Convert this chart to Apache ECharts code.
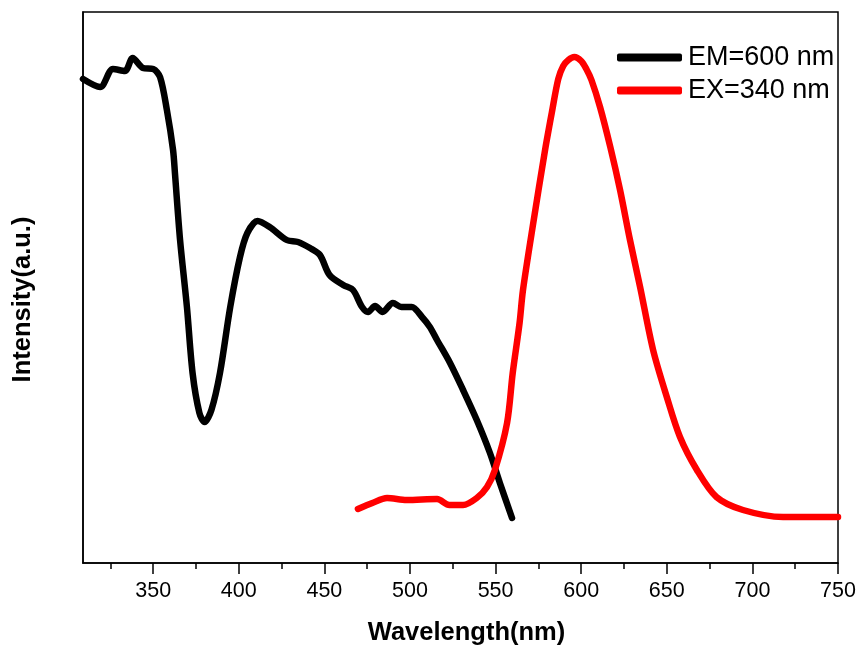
<!DOCTYPE html>
<html>
<head>
<meta charset="utf-8">
<script src="https://cdn.jsdelivr.net/npm/echarts@6/dist/echarts.min.js"></script>
<style>html,body{margin:0;padding:0;background:#fff;}#c{width:861px;height:652px;}</style>
</head>
<body>
<div id="c"></div>
<script>
// Excitation spectrum (EM=600 nm): wavelength, intensity (a.u.)
const emWavelength = [309,319,326.5,333.5,338,344,350,354,358,361.6,362.7,365.7,369.7,373,377,380,384,389,395,400.7,405,411,418,428,434.6,441.6,447.4,453,461,466.7,472,475.5,479.6,484,490,495,501,507,511.6,515.8,523.4,531,539,546.7,552.5,559.6];
const emIntensity  = [484,476,494,492,505,495,494,486,453,413,390,323,256,190,150,141,153,190,256,306,330,342,336,323,321,315,308,288,278,273,256,251,257,251,260,256,256,246,236,223,200,173,143,110,80,45];
// Emission spectrum (EX=340 nm)
const exWavelength = [469.6,478,486.6,498,515.8,523,531,539,545,549.6,556.7,560,564,566,572,578.9,582.8,586.6,589.5,592.5,596,600,603,606,611,617,622.7,628.5,634.4,642,650,657.7,667.6,679,694.5,717.9,750];
const exIntensity  = [54,60,65,63,64,58,58,65,76,93,140,190,240,273,340,413,450,484,497,503,506,502,494,483,456,416,373,323,276,213,166,126,93,66,53,46,46];
const xMin = 309, xMax = 750;
const majorTicks = [350,400,450,500,550,600,650,700,750];
const minorTicks = [325,375,425,475,525,575,625,675,725];
const seriesNames = ['EM=600 nm','EX=340 nm'];

const chart = echarts.init(document.getElementById('c'));
const pair = (xs, ys) => xs.map((x, i) => [x, ys[i]]);
const FONT = '"Liberation Sans", Arial, sans-serif';
// plot box
const L = 83, R = 23, T = 12, B = 89, W = 861 - L - R;
const pxPerUnit = W / (xMax - xMin);
// tick/label grids aligned to the same pixel scale as the data axis
const gMajor = { left: L + (majorTicks[0] - xMin) * pxPerUnit, right: R + (xMax - majorTicks[majorTicks.length-1]) * pxPerUnit, top: T, bottom: B };
const gMinor = { left: L + (minorTicks[0] - xMin) * pxPerUnit, right: R + (xMax - minorTicks[minorTicks.length-1]) * pxPerUnit, top: T, bottom: B };
const hiddenY = (gi) => ({ gridIndex: gi, type: 'value', show: false, min: 0, max: 1 });
chart.setOption({
  animation: false,
  backgroundColor: '#fff',
  grid: [
    { left: L, right: R, top: T, bottom: B, show: true, borderColor: '#000', borderWidth: 1.5, containLabel: false },
    gMajor, gMinor
  ],
  legend: {
    data: seriesNames, left: 617, top: 44, padding: 0, orient: 'vertical',
    itemWidth: 65, itemHeight: 8, itemGap: 6, icon: 'roundRect',
    textStyle: { fontFamily: FONT, fontSize: 27, color: '#000', padding: [0,0,0,1] }
  },
  xAxis: [{
    gridIndex: 0, type: 'value', min: xMin, max: xMax, position: 'bottom',
    name: 'Wavelength(nm)', nameLocation: 'middle', nameGap: 57,
    nameTextStyle: { fontFamily: FONT, fontSize: 25.5, fontWeight: 'bold', color: '#000', padding: [0,0,0,12] },
    axisLine: { show: true, lineStyle: { color: '#000', width: 1.5 } },
    axisTick: { show: false },
    axisLabel: { show: false },
    splitLine: { show: false }
  }, {
    gridIndex: 1, type: 'value', min: majorTicks[0], max: majorTicks[majorTicks.length-1], interval: 50, position: 'bottom',
    axisLine: { show: false },
    axisTick: { show: true, inside: false, length: 11, lineStyle: { color: '#000', width: 1.5 } },
    axisLabel: { show: true, margin: 17, fontFamily: FONT, fontSize: 21.5, color: '#000', showMinLabel: true, showMaxLabel: true },
    splitLine: { show: false }
  }, {
    gridIndex: 2, type: 'value', min: minorTicks[0], max: minorTicks[minorTicks.length-1], interval: 50, position: 'bottom',
    axisLine: { show: false },
    axisTick: { show: true, inside: false, length: 6, lineStyle: { color: '#000', width: 1.5 } },
    axisLabel: { show: false },
    splitLine: { show: false }
  }],
  yAxis: [{
    gridIndex: 0, type: 'value', min: 0, max: 551,
    name: 'Intensity(a.u.)', nameLocation: 'middle', nameGap: 47,
    nameTextStyle: { fontFamily: FONT, fontSize: 25.5, fontWeight: 'bold', color: '#000', padding: [0,24,0,0] },
    axisLine: { show: true, lineStyle: { color: '#000', width: 1.5 } },
    axisTick: { show: false }, axisLabel: { show: false }, splitLine: { show: false }
  }, hiddenY(1), hiddenY(2)],
  series: [{
    name: seriesNames[0], type: 'line', xAxisIndex: 0, yAxisIndex: 0, data: pair(emWavelength, emIntensity),
    smooth: 0.3, symbol: 'none', color: '#000', lineStyle: { color: '#000', width: 6.5, cap: 'round', join: 'round' }
  }, {
    name: seriesNames[1], type: 'line', xAxisIndex: 0, yAxisIndex: 0, data: pair(exWavelength, exIntensity),
    smooth: 0.3, symbol: 'none', color: '#ff0000', lineStyle: { color: '#ff0000', width: 6.5, cap: 'round', join: 'round' }
  }]
});
</script>
</body>
</html>
